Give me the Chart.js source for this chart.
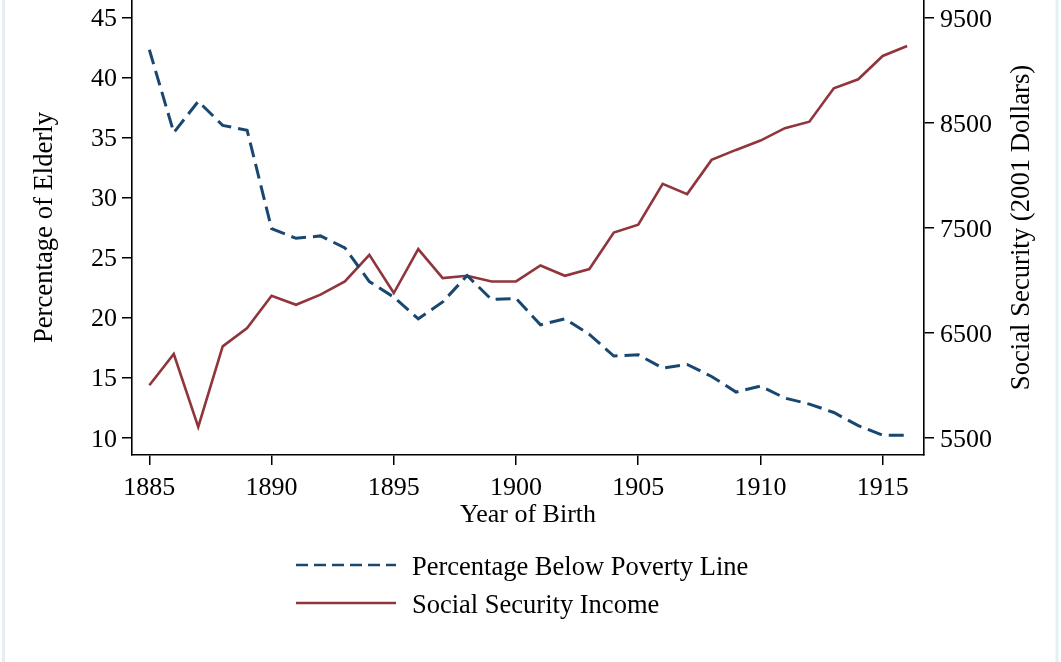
<!DOCTYPE html>
<html>
<head>
<meta charset="utf-8">
<script src="https://cdn.jsdelivr.net/npm/chart.js@4.4.1/dist/chart.umd.min.js"></script>
<style>
  html, body { margin: 0; padding: 0; background: #fff; }
  #wrap { position: relative; width: 1061px; height: 662px; }
</style>
</head>
<body>
<div id="wrap"><canvas id="chart" width="1061" height="662"></canvas></div>
<script>
// Birth cohorts
const years = [1885, 1886, 1887, 1888, 1889, 1890, 1891, 1892, 1893, 1894, 1895,
               1896, 1897, 1898, 1899, 1900, 1901, 1902, 1903, 1904, 1905, 1906,
               1907, 1908, 1909, 1910, 1911, 1912, 1913, 1914, 1915, 1916];

// Percentage of elderly below the poverty line (left axis)
const povertyPct = [42.3, 35.4, 38.0, 36.0, 35.6, 27.4, 26.6, 26.8, 25.8, 23.0, 21.7,
                    19.9, 21.3, 23.5, 21.5, 21.6, 19.4, 19.9, 18.6, 16.8, 16.9, 15.8,
                    16.1, 15.1, 13.8, 14.3, 13.3, 12.8, 12.1, 11.0, 10.2, 10.2];

// Social Security income, 2001 dollars (right axis)
const socialSecurity = [6000, 6297, 5603, 6370, 6545, 6852, 6766, 6862, 6988, 7242, 6878,
                        7296, 7020, 7042, 6988, 6988, 7140, 7042, 7106, 7454, 7528, 7918,
                        7820, 8146, 8241, 8330, 8448, 8510, 8828, 8914, 9136, 9231];

// Tick labels
const yearTicks = [1885, 1890, 1895, 1900, 1905, 1910, 1915];
const pctTicks = [10, 15, 20, 25, 30, 35, 40, 45];
const dollarTicks = [5500, 6500, 7500, 8500, 9500];

const axisTitleLeft = 'Percentage of Elderly';
const axisTitleRight = 'Social Security (2001 Dollars)';
const axisTitleBottom = 'Year of Birth';

const NAVY = '#1a476f';
const MAROON = '#90353b';
const SERIF = '"Liberation Serif", "Times New Roman", serif';
const TICK_FONT = { family: SERIF, size: 26 };
const TITLE_FONT = { family: SERIF, size: 26.7 };

const PAD_LEFT = 25, PAD_BOTTOM = 129;
const AREA = { left: 132, right: 924, bottom: 455 };

function toPoints(vals) {
  return years.map((yr, i) => ({ x: yr, y: vals[i] }));
}
function fixedTicks(list) {
  return scale => { scale.ticks = list.map(v => ({ value: v })); };
}
// vertical axes: fixed width, no extra room above/below the plot for labels
function verticalFit(width) {
  return s => { s.width = width; s.paddingTop = 0; s.paddingBottom = 0; };
}
const tickGrid = {
  display: true, drawOnChartArea: false, drawTicks: true,
  tickLength: 10, color: '#000', lineWidth: 1.5
};
const axisBorder = { display: true, color: '#000', width: 1.6 };

// White page with faint frame lines, plus the right axis title and the legend
const decorations = {
  id: 'decorations',
  beforeDraw(chart) {
    const ctx = chart.ctx;
    ctx.save();
    ctx.fillStyle = '#fff';
    ctx.fillRect(0, 0, chart.width, chart.height);
    ctx.strokeStyle = '#e5eff2';
    ctx.lineWidth = 3;
    ctx.beginPath();
    ctx.moveTo(3.5, 0); ctx.lineTo(3.5, chart.height);
    ctx.moveTo(1057, 0); ctx.lineTo(1057, chart.height);
    ctx.stroke();
    ctx.restore();
  },
  afterDraw(chart) {
    const ctx = chart.ctx;
    const area = chart.chartArea;
    ctx.save();
    // right axis title, reading bottom to top
    ctx.translate(1022, (area.top + area.bottom) / 2);
    ctx.rotate(-Math.PI / 2);
    ctx.font = TITLE_FONT.size + 'px ' + SERIF;
    ctx.fillStyle = '#000';
    ctx.textAlign = 'center';
    ctx.textBaseline = 'middle';
    ctx.fillText(axisTitleRight, 0, 0);
    ctx.restore();

    // legend: one row per series, with a shorter dash for the key sample
    chart.data.datasets.forEach((ds, i) => {
      const y = 565 + i * 38;
      ctx.save();
      ctx.strokeStyle = ds.borderColor;
      ctx.lineWidth = 2.6;
      ctx.setLineDash(ds.borderDash ? [12, 6] : []);
      ctx.beginPath();
      ctx.moveTo(296, y);
      ctx.lineTo(396, y);
      ctx.stroke();
      ctx.setLineDash([]);
      ctx.font = '26.5px ' + SERIF;
      ctx.fillStyle = '#000';
      ctx.textAlign = 'left';
      ctx.textBaseline = 'alphabetic';
      ctx.fillText(ds.label, 412, y + 10);
      ctx.restore();
    });
  }
};

new Chart(document.getElementById('chart'), {
  type: 'line',
  data: {
    datasets: [
      {
        label: 'Percentage Below Poverty Line',
        data: toPoints(povertyPct),
        yAxisID: 'y',
        borderColor: NAVY,
        borderWidth: 3,
        borderDash: [15, 7],
        pointRadius: 0,
        tension: 0,
        fill: false
      },
      {
        label: 'Social Security Income',
        data: toPoints(socialSecurity),
        yAxisID: 'y1',
        borderColor: MAROON,
        borderWidth: 2.6,
        pointRadius: 0,
        tension: 0,
        fill: false
      }
    ]
  },
  options: {
    responsive: false,
    animation: false,
    devicePixelRatio: 1,
    layout: { padding: { left: PAD_LEFT, right: 0, top: 0, bottom: PAD_BOTTOM } },
    plugins: {
      legend: { display: false },
      tooltip: { enabled: false }
    },
    scales: {
      x: {
        type: 'linear',
        position: 'bottom',
        min: 1884.29,
        max: 1916.69,
        afterBuildTicks: fixedTicks(yearTicks),
        afterFit: s => { s.height = 662 - PAD_BOTTOM - AREA.bottom; },
        grid: tickGrid,
        border: axisBorder,
        ticks: {
          autoSkip: false, maxRotation: 0, padding: 8,
          color: '#000', font: TICK_FONT,
          callback: v => String(v)
        },
        title: {
          display: true, text: axisTitleBottom, color: '#000',
          font: { family: SERIF, size: 26 },
          padding: { top: 0, bottom: 2 }
        }
      },
      y: {
        type: 'linear',
        position: 'left',
        min: 8.56,
        max: 46.44,
        afterBuildTicks: fixedTicks(pctTicks),
        afterFit: verticalFit(AREA.left - PAD_LEFT),
        grid: tickGrid,
        border: axisBorder,
        ticks: {
          autoSkip: false, padding: 5, labelOffset: 2,
          color: '#000', font: TICK_FONT,
          callback: v => String(v)
        },
        title: {
          display: true, text: axisTitleLeft, color: '#000', font: TITLE_FONT,
          padding: { top: 4, bottom: 0 }
        }
      },
      y1: {
        type: 'linear',
        position: 'right',
        min: 5335,
        max: 9669,
        afterBuildTicks: fixedTicks(dollarTicks),
        afterFit: verticalFit(1061 - AREA.right),
        grid: tickGrid,
        border: axisBorder,
        ticks: {
          autoSkip: false, padding: 6, labelOffset: 2,
          color: '#000', font: TICK_FONT,
          callback: v => String(v)
        }
      }
    }
  },
  plugins: [decorations]
});
</script>
</body>
</html>
